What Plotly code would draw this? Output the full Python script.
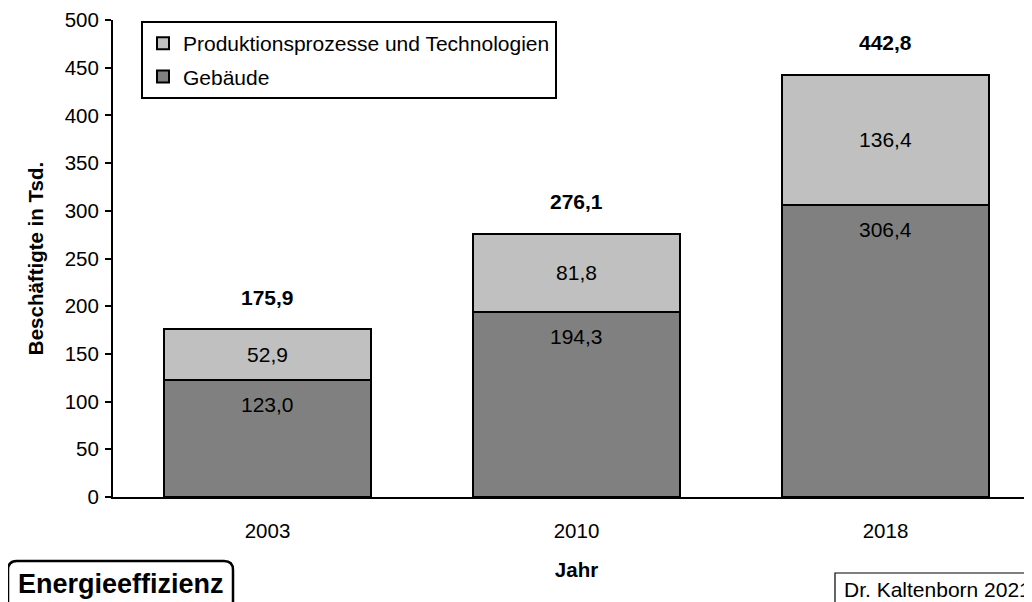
import plotly.graph_objects as go

years = ["2003", "2010", "2018"]
gebaeude = [123.0, 194.3, 306.4]
produktion = [52.9, 81.8, 136.4]
totals = [175.9, 276.1, 442.8]
y_ticks = [0, 50, 100, 150, 200, 250, 300, 350, 400, 450, 500]

def de(v):
    return f"{v:.1f}".replace(".", ",")

FONT = "Liberation Sans, Arial, sans-serif"

# page body has an 8px margin -> figure is drawn offset by (8, 8)
OFF = 8
# plot area in window pixels (right edge lies just outside the window)
L, R, T, B = 113, 1040, 20, 497
W, H = R - L, B - T
FW, FH = 1040, 602 - OFF

def px(x):
    return (x - L) / W

def py(y):
    return (B - y) / H

def rounded(x0, y0, x1, y1, r):
    rx, ry = r / W, r / H
    X0, X1 = px(x0), px(x1)
    Y0, Y1 = py(y0), py(y1)
    return (f"M {X0+rx},{Y0} L {X1-rx},{Y0} Q {X1},{Y0} {X1},{Y0-ry} "
            f"L {X1},{Y1+ry} Q {X1},{Y1} {X1-rx},{Y1} L {X0+rx},{Y1} "
            f"Q {X0},{Y1} {X0},{Y1+ry} L {X0},{Y0-ry} Q {X0},{Y0} {X0+rx},{Y0} Z")

xpos = list(range(len(years)))

fig = go.Figure()
fig.add_trace(go.Bar(
    x=xpos, y=gebaeude, name="Gebäude", width=0.67,
    legendgroup="g", legendrank=2,
    marker=dict(color="#808080", line=dict(color="black", width=2)),
))
fig.add_trace(go.Bar(
    x=xpos, y=produktion, name="Produktionsprozesse und Technologien",
    width=0.67, legendgroup="p", legendrank=1,
    marker=dict(color="#C0C0C0", line=dict(color="black", width=2)),
    text=[de(v) for v in produktion], textposition="inside", constraintext="none",
    insidetextanchor="middle", textfont=dict(color="black", size=21, family=FONT),
))

for x, v in zip(xpos, gebaeude):
    fig.add_annotation(x=x, y=v, text=de(v), showarrow=False, yshift=-25,
                       font=dict(size=21, color="black", family=FONT))

for x, t in zip(xpos, totals):
    fig.add_annotation(x=x, y=t, text=f"<b>{de(t)}</b>", showarrow=False,
                       yshift=32, font=dict(size=21, color="black", family=FONT))

fig.add_shape(type="path", xref="paper", yref="paper",
              path=rounded(8, 561, 233, 615, 9),
              line=dict(color="black", width=2.5), fillcolor="white", layer="above")
fig.add_annotation(xref="paper", yref="paper", x=px(121), y=py(584),
                   text="<b>Energieeffizienz</b>", showarrow=False,
                   xanchor="center", yanchor="middle",
                   font=dict(size=27, color="black", family=FONT))
fig.add_shape(type="rect", xref="paper", yref="paper",
              x0=px(835), x1=px(1060), y0=py(573), y1=py(615),
              line=dict(color="black", width=1.2), fillcolor="white", layer="above")
fig.add_annotation(xref="paper", yref="paper", x=px(842), y=py(589),
                   text="Dr. Kaltenborn 2021", showarrow=False,
                   xanchor="left", yanchor="middle",
                   font=dict(size=21, color="black", family=FONT))

fig.update_layout(
    width=FW, height=FH,
    barmode="stack",
    plot_bgcolor="white", paper_bgcolor="white",
    margin=dict(l=L - OFF, r=FW + OFF - R, t=T - OFF, b=602 - B),
    font=dict(family=FONT, size=20.5, color="black"),
    showlegend=True,
    legend=dict(x=px(141), y=py(21), xanchor="left", yanchor="top",
                bordercolor="black", borderwidth=2, bgcolor="white",
                traceorder="grouped", tracegroupgap=3,
                font=dict(size=21)),
)
fig.update_xaxes(range=[-0.5, len(years) - 0.5], tickvals=xpos, ticktext=years,
                 automargin=False,
                 showline=True, linecolor="black", linewidth=2, showgrid=False,
                 zeroline=False, ticks="", ticklabelstandoff=14,
                 title=dict(text="<b>Jahr</b>", font=dict(size=20.5), standoff=22),
                 tickfont=dict(size=20.5))
fig.update_yaxes(range=[0, 500], tickvals=y_ticks, automargin=False,
                 showline=True, linecolor="black",
                 linewidth=2, ticks="outside", ticklen=6, tickwidth=2, tickcolor="black",
                 showgrid=False, zeroline=False, ticklabelstandoff=2,
                 title=dict(text="<b>Beschäftigte in Tsd.</b>", font=dict(size=20.5), standoff=16),
                 tickfont=dict(size=20.5))

fig.write_html("out.html")
